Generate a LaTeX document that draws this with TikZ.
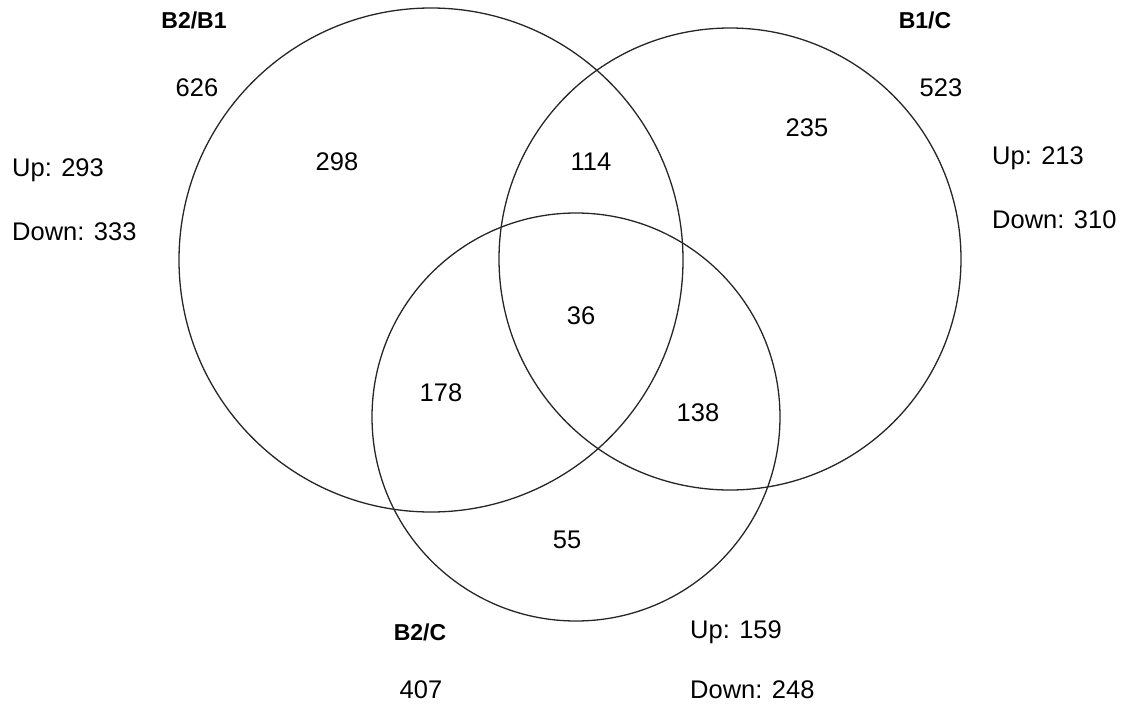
\documentclass[tikz,border=0pt]{standalone}
\usepackage{fontspec}
\setmainfont{Liberation Sans}
\begin{document}
\begin{tikzpicture}[x=1pt,y=-1pt,
  ring/.style={draw=black!85,line width=1.3pt},
  num/.style={font=\fontsize{25.5}{29}\selectfont,inner sep=0pt},
  lbl/.style={font=\fontsize{23}{27}\selectfont\bfseries,inner sep=0pt},
  side/.style={font=\fontsize{25.5}{29}\selectfont,inner sep=0pt,anchor=west}]
\useasboundingbox (0,0) rectangle (1128,710);
\node[ring,circle,minimum size=504pt,inner sep=0pt] (A) at (431,260) {};
\node[ring,circle,minimum size=462pt,inner sep=0pt] (B) at (730,259) {};
\node[ring,circle,minimum size=408pt,inner sep=0pt] (C) at (576,417) {};
% labels
\node[lbl] (lA) at (194,20) {B2/B1};
\node[num] (tA) at (197,88) {626};
\node[side] (uA) at (12,170) {Up: 293};
\node[side] (dA) at (12,232) {Down: 333};
\node[lbl] (lB) at (925,20) {B1/C};
\node[num] (tB) at (941,88) {523};
\node[side] (uB) at (992,158) {Up: 213};
\node[side] (dB) at (992,220) {Down: 310};
\node[lbl] (lC) at (420,632) {B2/C};
\node[num] (tC) at (421,690) {407};
\node[side] (uC) at (690,632) {Up: 159};
\node[side] (dC) at (690,690) {Down: 248};
% regions
\node[num] (r1) at (337,162) {298};
\node[num] (r2) at (591,162) {114};
\node[num] (r3) at (807,128) {235};
\node[num] (r4) at (581,316) {36};
\node[num] (r5) at (441,393) {178};
\node[num] (r6) at (698,413) {138};
\node[num] (r7) at (567,540) {55};
\end{tikzpicture}
\end{document}
